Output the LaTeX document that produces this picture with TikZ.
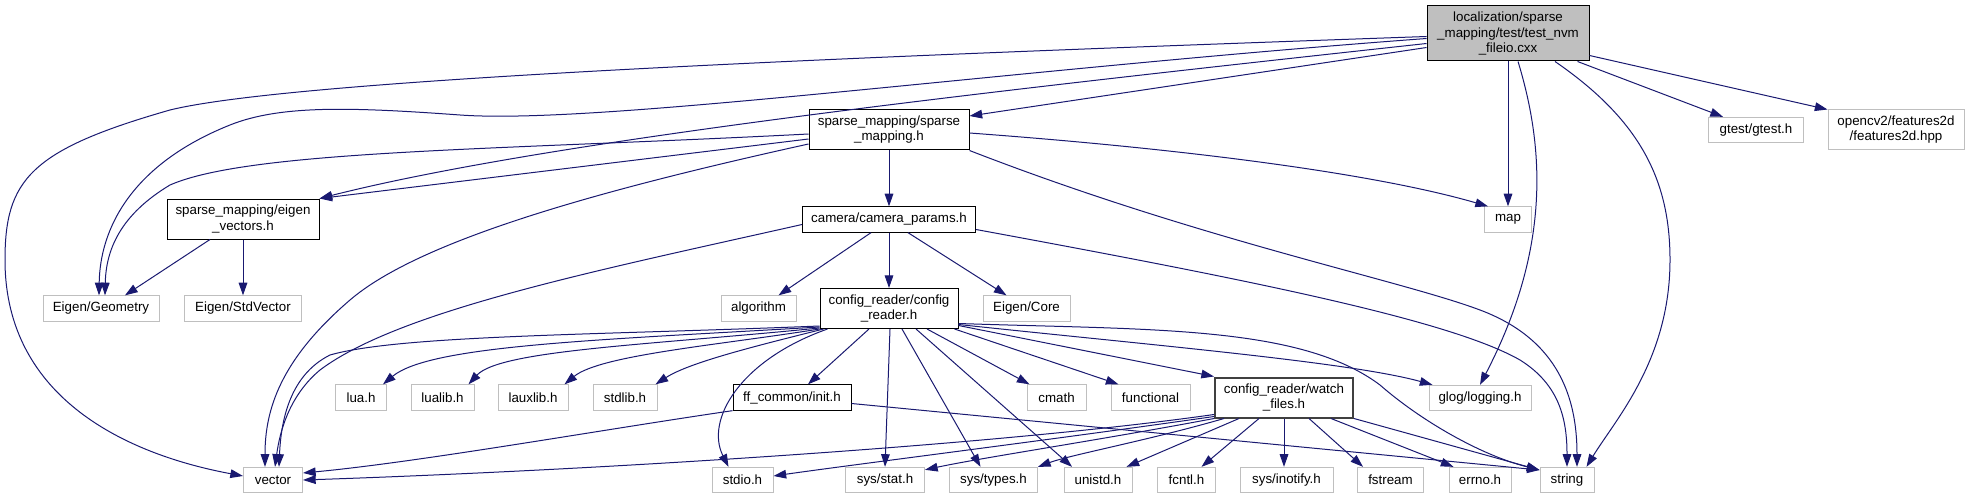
\documentclass[tikz,border=0pt]{standalone}
\usepackage{fontspec}
\setmainfont{Liberation Sans}
\usetikzlibrary{arrows.meta,calc}
\definecolor{edgeblue}{HTML}{191970}
\definecolor{grey75}{HTML}{BFBFBF}
\definecolor{grey25}{HTML}{404040}
\begin{document}
\begin{tikzpicture}[x=0.75pt,y=-0.75pt,font=\fontsize{10}{11.3}\selectfont,
  extfile/.style={draw=grey75,fill=white,line width=0.75pt,align=center,inner sep=0pt,minimum height=19pt,minimum width=#1},
  incfile/.style={extfile=#1,draw=black},
  mainfile/.style={incfile=#1,fill=grey75,minimum height=41.25pt},
  tall/.style={minimum height=30pt},
  dep/.style={draw=edgeblue,line width=0.75pt,-{Triangle[length=9.5pt,width=6.5pt]}}]
\useasboundingbox (0,0) rectangle (1969,499);
% the test file and what it pulls in directly
\node[mainfile=121.5pt] (root) at (1508,33.5) {localization/sparse\\\_mapping/test/test\_nvm\\\_fileio.cxx};
\node[incfile=120pt,tall] (sm) at (889,130) {sparse\_mapping/sparse\\\_mapping.h};
\node[extfile=71.25pt] (gtest) at (1756,130) {gtest/gtest.h};
\node[extfile=102pt,tall] (cv) at (1896,130) {opencv2/features2d\\/features2d.hpp};
\node[incfile=114pt,tall] (ev) at (243,219) {sparse\_mapping/eigen\\\_vectors.h};
\node[incfile=129.75pt] (cp) at (889,219.5) {camera/camera\_params.h};
\node[extfile=35.25pt] (map) at (1508,219.5) {map};
% third row
\node[extfile=87pt] (geo) at (101,308.5) {Eigen/Geometry};
\node[extfile=87.75pt] (stdvec) at (243,308.5) {Eigen/StdVector};
\node[extfile=56.25pt] (algo) at (758.5,308.5) {algorithm};
\node[incfile=103.5pt,tall] (cr) at (889,308.5) {config\_reader/config\\\_reader.h};
\node[extfile=65.25pt] (core) at (1026.5,308.5) {Eigen/Core};
% fourth row
\node[extfile=38.25pt] (lua) at (361,397.5) {lua.h};
\node[extfile=47.25pt] (lualib) at (442.5,397.5) {lualib.h};
\node[extfile=52.5pt] (lauxlib) at (533,397.5) {lauxlib.h};
\node[extfile=48pt] (stdlib) at (625,397.5) {stdlib.h};
\node[incfile=88.5pt] (ff) at (792,397.5) {ff\_common/init.h};
\node[extfile=44.25pt] (cmath) at (1056.5,397.5) {cmath};
\node[extfile=59.25pt] (func) at (1150.5,397.5) {functional};
\node[incfile=103.5pt,tall,draw=grey25,line width=1.5pt] (wf) at (1284,397.5) {config\_reader/watch\\\_files.h};
\node[extfile=76.5pt] (glog) at (1480,398) {glog/logging.h};
% bottom row
\node[extfile=44.25pt] (vec) at (273,480) {vector};
\node[extfile=45.75pt] (stdio) at (742.5,480) {stdio.h};
\node[extfile=59.25pt] (stat) at (885,480) {sys/stat.h};
\node[extfile=66pt] (types) at (993.5,480) {sys/types.h};
\node[extfile=51pt] (unistd) at (1098,480) {unistd.h};
\node[extfile=43.5pt] (fcntl) at (1186.5,480) {fcntl.h};
\node[extfile=69.75pt] (inotify) at (1286.5,480) {sys/inotify.h};
\node[extfile=49.5pt] (fstream) at (1390.5,480) {fstream};
\node[extfile=46.5pt] (errno) at (1480,480) {errno.h};
\node[extfile=40.5pt] (str) at (1567,480) {string};
% from the test file
\draw[dep] ($(root.west)+(0,3)$) .. controls (900,55) and (300,78) .. (170,110) .. controls (30,150) and (5,180) .. (5,260) .. controls (5,400) and (130,455) .. ($(vec.west)+(0,-4)$);
\draw[dep] ($(root.west)+(0,5)$) .. controls (1000,70) and (600,125) .. (460,115) .. controls (350,107) and (280,105) .. (230,125) .. controls (130,165) and (100,230) .. ($(geo.north)+(-2,0)$);
\draw[dep] ($(root.west)+(0,10)$) .. controls (1000,90) and (550,140) .. (ev.north east);
\draw[dep] ($(root.west)+(0,14)$) -- ($(sm.east)+(0,-14)$);
\draw[dep] (root.south) -- (map.north);
\draw[dep] ($(root.south)+(10,0)$) .. controls (1545,150) and (1550,250) .. (glog.north);
\draw[dep] ($(root.south)+(47,0)$) .. controls (1640,120) and (1670,180) .. (1670,260) .. controls (1670,360) and (1615,420) .. ($(str.north east)+(-8,0)$);
\draw[dep] ($(root.south east)+(-12,0)$) -- ($(gtest.north west)+(15,0)$);
\draw[dep] ($(root.east)+(0,22)$) -- (cv.north west);
% from sparse_mapping.h
\draw[dep] ($(sm.west)+(0,9)$) -- (ev.north east);
\draw[dep] ($(sm.west)+(0,4)$) .. controls (500,150) and (250,150) .. (170,185) .. controls (120,215) and (106,250) .. ($(geo.north)+(4,0)$);
\draw[dep] ($(sm.west)+(0,14)$) .. controls (600,190) and (420,240) .. (350,300) .. controls (280,360) and (265,410) .. ($(vec.north)+(-8,0)$);
\draw[dep] (sm.south) -- (cp.north);
\draw[dep] ($(sm.east)+(0,3)$) .. controls (1200,150) and (1380,175) .. ($(map.north west)+(4,0)$);
\draw[dep] (sm.south east) .. controls (1200,240) and (1400,280) .. (1480,310) .. controls (1560,340) and (1577,400) .. ($(str.north)+(10,0)$);
% from eigen_vectors.h
\draw[dep] ($(ev.south)+(-33,0)$) -- ($(geo.north)+(24,0)$);
\draw[dep] (ev.south) -- (stdvec.north);
% from camera_params.h
\draw[dep] ($(cp.south)+(-18,0)$) -- ($(algo.north)+(20,0)$);
\draw[dep] (cp.south) -- (cr.north);
\draw[dep] ($(cp.south)+(19,0)$) -- ($(core.north)+(-20,0)$);
\draw[dep] ($(cp.west)+(0,5)$) .. controls (600,270) and (400,310) .. (320,370) .. controls (290,395) and (280,430) .. ($(vec.north)+(2,0)$);
\draw[dep] ($(cp.east)+(0,10)$) .. controls (1250,280) and (1450,320) .. (1520,360) .. controls (1560,385) and (1567,420) .. (str.north);
% from config_reader.h
\draw[dep] ($(cr.south west)+(0,-3)$) .. controls (600,335) and (400,335) .. (330,355) .. controls (290,375) and (281,420) .. ($(vec.north)+(6,0)$);
\draw[dep] ($(cr.south west)+(0,-2)$) .. controls (600,340) and (430,345) .. ($(lua.north east)+(-4,0)$);
\draw[dep] ($(cr.south west)+(0,-1)$) .. controls (650,345) and (500,350) .. ($(lualib.north east)+(-6,0)$);
\draw[dep] (cr.south west) .. controls (720,345) and (600,355) .. ($(lauxlib.north east)+(-4,0)$);
\draw[dep] ($(cr.south west)+(4,0)$) .. controls (760,345) and (690,362) .. ($(stdlib.north east)+(-2,0)$);
\draw[dep] ($(cr.south west)+(8,0)$) .. controls (740,360) and (705,420) .. ($(stdio.north)+(-14,0)$);
\draw[dep] ($(cr.south)+(-20,0)$) -- ($(ff.north)+(16,0)$);
\draw[dep] ($(cr.south)+(1,0)$) -- (stat.north);
\draw[dep] ($(cr.south)+(13,0)$) -- ($(types.north)+(-13,0)$);
\draw[dep] ($(cr.south)+(27,0)$) -- ($(unistd.north)+(-26,0)$);
\draw[dep] ($(cr.south)+(38,0)$) -- ($(cmath.north west)+(3,0)$);
\draw[dep] ($(cr.south east)+(-4,0)$) -- ($(func.north west)+(8,0)$);
\draw[dep] ($(cr.east)+(0,17)$) -- (wf.north west);
\draw[dep] ($(cr.east)+(0,16)$) .. controls (1150,345) and (1350,362) .. ($(glog.north west)+(4,0)$);
\draw[dep] ($(cr.east)+(0,15)$) .. controls (1150,330) and (1300,325) .. (1380,385) .. controls (1420,420) and (1480,455) .. ($(str.west)+(0,-10)$);
% from ff_common/init.h
\draw[dep] (ff.south west) .. controls (600,430) and (420,462) .. ($(vec.east)+(0,-7)$);
\draw[dep] ($(ff.east)+(0,6)$) -- ($(str.west)+(0,-10)$);
% from watch_files.h
\draw[dep] ($(wf.south west)+(0,-4)$) .. controls (1000,445) and (600,470) .. (vec.east);
\draw[dep] ($(wf.south west)+(0,-2)$) .. controls (1050,440) and (850,465) .. ($(stdio.east)+(0,-4)$);
\draw[dep] (wf.south west) .. controls (1100,440) and (980,458) .. ($(stat.north east)+(0,3)$);
\draw[dep] ($(wf.south west)+(10,0)$) .. controls (1150,440) and (1070,455) .. (types.north east);
\draw[dep] ($(wf.south west)+(25,0)$) -- ($(unistd.north east)+(-6,0)$);
\draw[dep] ($(wf.south)+(-25,0)$) -- ($(fcntl.north)+(15,0)$);
\draw[dep] (wf.south) -- (wf.south |- inotify.north);
\draw[dep] ($(wf.south)+(25,0)$) -- ($(fstream.north west)+(6,0)$);
\draw[dep] ($(wf.south east)+(-23,0)$) -- ($(errno.north west)+(5,0)$);
\draw[dep] (wf.south east) -- ($(str.west)+(0,-10)$);
\end{tikzpicture}
\end{document}
